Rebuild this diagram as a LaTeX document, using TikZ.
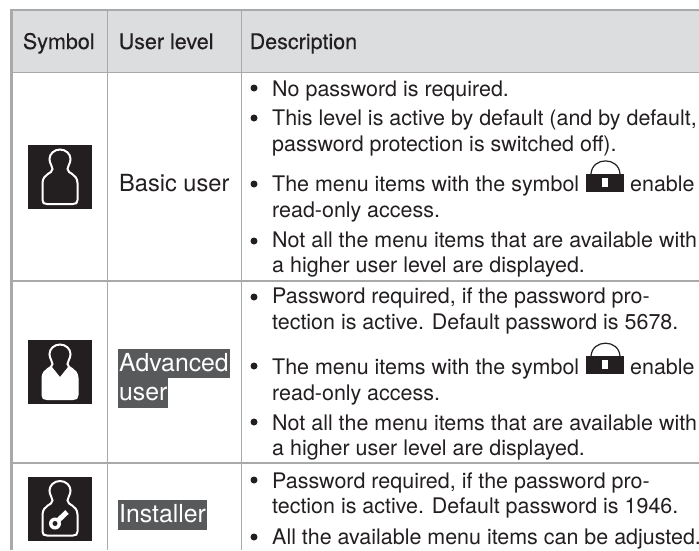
\documentclass[tikz,border=0pt]{standalone}
\usepackage{fontspec}
\setmainfont{TeX Gyre Heros}
\definecolor{gridgray}{HTML}{A8A9AB}
\definecolor{headgray}{HTML}{DCDDDF}
\definecolor{inkc}{HTML}{231F20}
\definecolor{hilite}{HTML}{58595B}
\tikzset{
 x=1pt,y=-1pt,
 grid/.style={draw=gridgray,line width=1.5pt},
 gridb/.style={draw=gridgray,line width=2.2pt},
 ln/.style={anchor=base west,inner sep=0pt,font=\fontsize{21.45}{24}\selectfont,text=inkc},
 hd/.style={ln,font=\fontsize{21.5}{24}\selectfont\addfontfeature{FakeBold=0.3}},
 lvl/.style={ln,font=\fontsize{23.6}{26}\selectfont},
 bul/.style={circle,fill=inkc,inner sep=0pt,minimum size=7pt},
 hl/.style={anchor=base west,inner sep=0pt,font=\fontsize{24.8}{26}\selectfont,text=white,fill=hilite,text height=22.5pt,text depth=7pt},
 ico/.style={fill=inkc,draw=none},
 lockbody/.style={fill=inkc,draw=none},
}
\newcommand{\bodyshape}{
 (0,-27.5) .. controls (-6,-27.5) and (-10.5,-23) .. (-10.5,-18)
 .. controls (-10.5,-13) and (-7.5,-11.5) .. (-7.5,-8)
 .. controls (-7.5,-3) and (-17,-4) .. (-17.5,6)
 -- (-17.5,23) .. controls (-17.5,26) and (-16,27) .. (-13,27)
 -- (13,27) .. controls (16,27) and (17.5,26) .. (17.5,23)
 -- (17.5,6) .. controls (17,-4) and (7.5,-3) .. (7.5,-8)
 .. controls (7.5,-11.5) and (10.5,-13) .. (10.5,-18)
 .. controls (10.5,-23) and (6,-27.5) .. (0,-27.5) -- cycle}
\begin{document}
\begin{tikzpicture}
\useasboundingbox (0,0) rectangle (699,550);
\fill[white] (0,0) rectangle (699,550);
% header
\fill[headgray] (12,10) rectangle (699,72);
\draw[gridb] (11,10) -- (699,10);
\draw[gridb] (11.5,9) -- (11.5,550);
\draw[grid] (107.5,10) -- (107.5,550);
\draw[grid] (241.5,10) -- (241.5,550);
\draw[grid] (12,72.5) -- (699,72.5);
\draw[grid] (12,281) -- (699,281);
\draw[grid] (12,463) -- (699,463);
% header text
\node[hd] (h1) at (22.7,49) {Symbol};
\node[hd] (h2) at (118.5,49) {User level};
\node[hd] (h3) at (249.5,49) {Description};
% icons
\fill[ico] (28,145) rectangle (92,209);
\begin{scope}[shift={(60,177)}]
 \draw[white,line width=2pt] \bodyshape;
\end{scope}
\fill[ico] (28,340) rectangle (92,404);
\begin{scope}[shift={(60,372)}]
 \draw[white,line width=2pt] \bodyshape;
 \fill[white] (-18,6) .. controls (-17.5,-2) and (-12,-3) .. (-8,-5) -- (0,5) -- (8,-5) .. controls (12,-3) and (17.5,-2) .. (18,6) -- (18,23) .. controls (18,26) and (16,27.5) .. (13,27.5) -- (-13,27.5) .. controls (-16,27.5) and (-18,26) .. (-18,23) -- cycle;
\end{scope}
\fill[ico] (28,476.5) rectangle (92,540.5);
\begin{scope}[shift={(60,508.5)}]
 \draw[white,line width=2pt] \bodyshape;
 \draw[white,line width=5pt] (-4,14) -- (7,3.5);
 \fill[white] (-5,15) circle (6);
 \fill[inkc] (-5,15) circle (2.5);
\end{scope}
% user levels
\node[lvl] (u1) at (119,191.7) {Basic user};
\node[hl,inner xsep=1pt] (u2) at (118,371) {Advanced};
\node[hl,inner xsep=1pt] (u3) at (118,400.5) {user};
\node[hl,inner xsep=1pt] (u4) at (118,522.7) {Installer};
% bullets
\foreach \yy in {88,118,184,241,297,366,422,480,537}
 \node[bul] at (254,\yy) {};
% description lines
\node[ln] at (272,96) {No password is required.};
\node[ln] at (272,125) {This level is active by default (and by default,};
\node[ln] at (272,151.7) {password protection is switched off).};
\node[ln] at (272,191.7) {The menu items with the symbol};
\node[ln] at (272,217.7) {read-only access.};
\node[ln] at (272,247.7) {Not all the menu items that are available with};
\node[ln] at (272,272.7) {a higher user level are displayed.};
\node[ln] at (272,303) {Password required, if the password pro-};
\node[ln] at (272,329) {tection is active. Default password is 5678.};
\node[ln] at (272,374) {The menu items with the symbol};
\node[ln] at (272,400) {read-only access.};
\node[ln] at (272,430) {Not all the menu items that are available with};
\node[ln] at (272,455) {a higher user level are displayed.};
\node[ln] at (272,488) {Password required, if the password pro-};
\node[ln] at (272,513) {tection is active. Default password is 1946.};
\node[ln] at (272,544) {All the available menu items can be adjusted.};
\node[ln] at (630,191.7) {enable};
\node[ln] at (630,374) {enable};
% locks
\foreach \yy in {192,374.3}{
 \fill[lockbody] (586,\yy-18) rectangle (624,\yy);
 \draw[inkc,line width=1.2pt] (591,\yy-18) .. controls (592,\yy-35.5) and (619,\yy-35.5) .. (620,\yy-18);
 \fill[white] (602,\yy-14) rectangle (608,\yy-5);
}
\end{tikzpicture}
\end{document}
